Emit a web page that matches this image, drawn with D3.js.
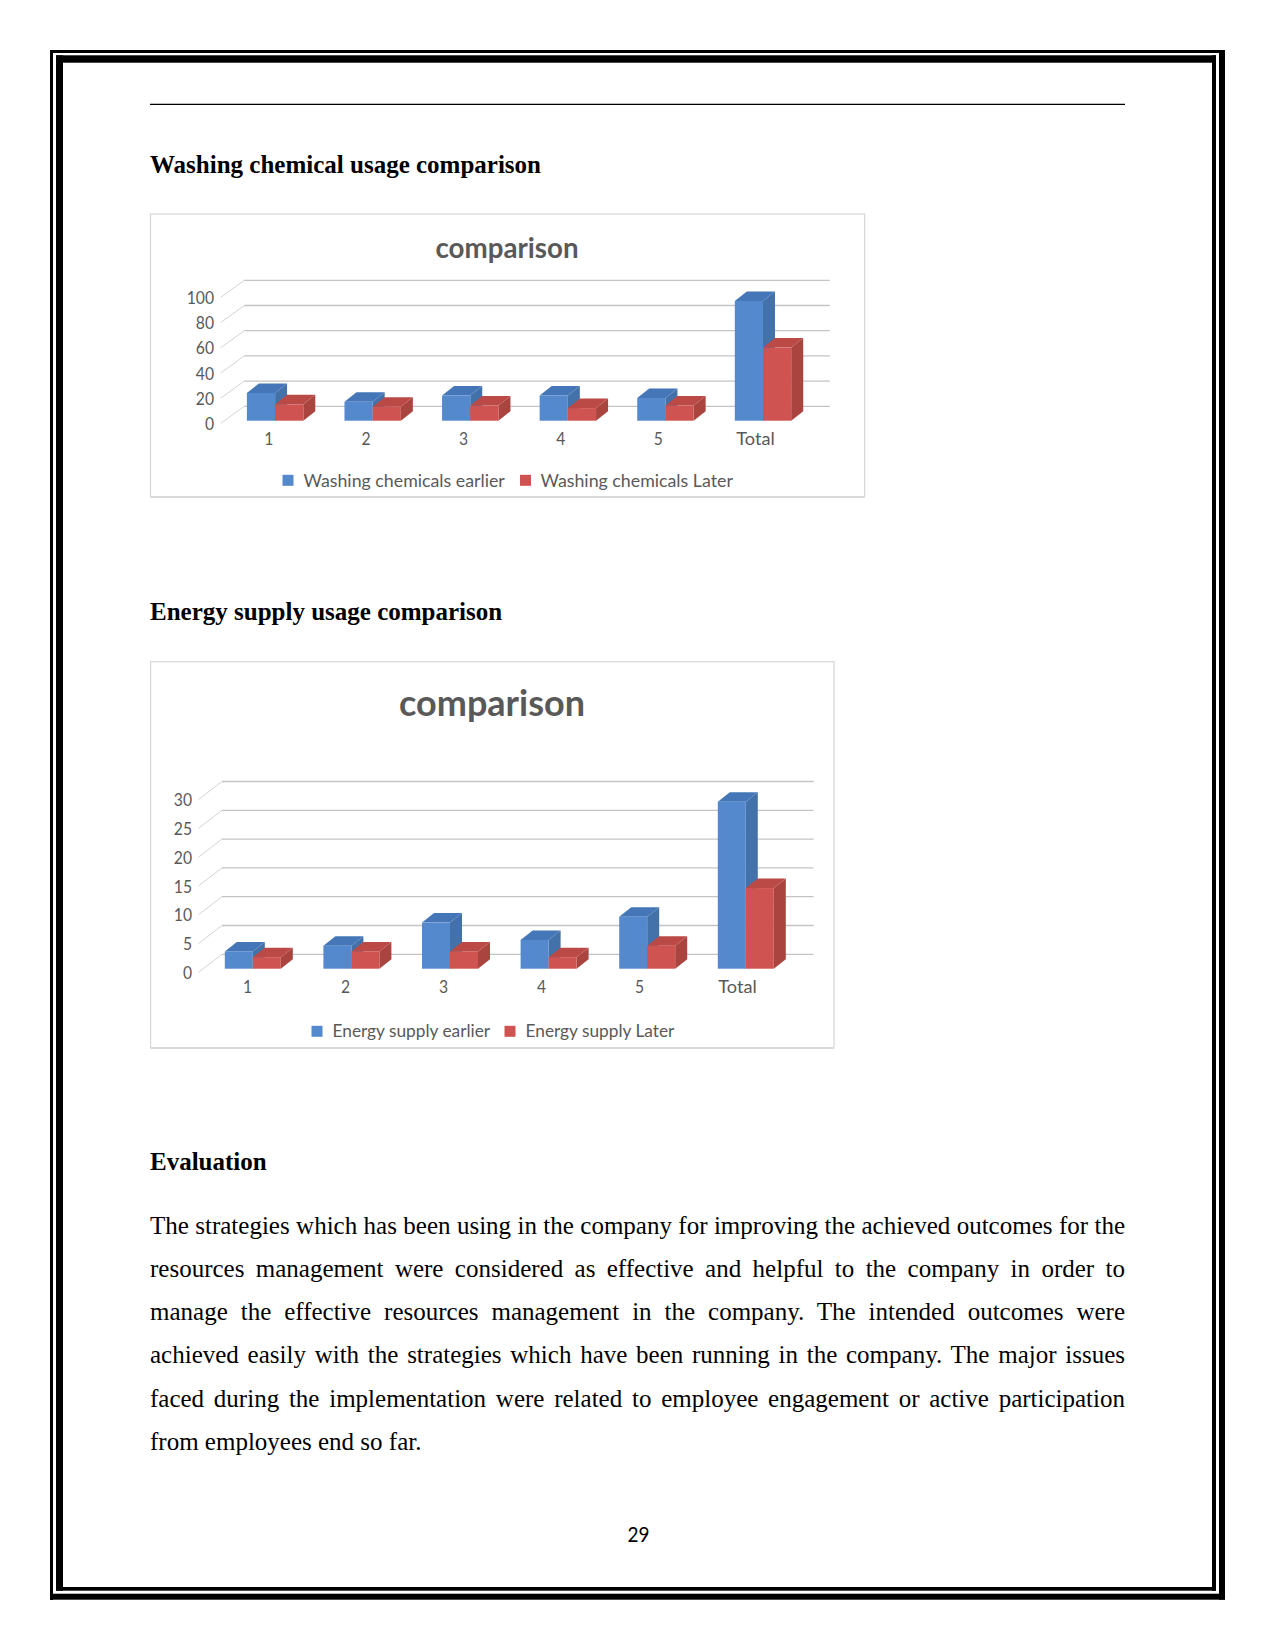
<!DOCTYPE html>
<html>
<head>
<meta charset="utf-8">
<title>Resource usage comparison</title>
<style>
    html, body { margin: 0; padding: 0; background: #fff; }
    #page { position: relative; width: 1275px; height: 1651px; overflow: hidden; }
    svg { position: absolute; left: 0; top: 0; }
    .line { position: absolute; left: 150px; width: 975px; font: 25px "Liberation Serif", serif; color: #000; white-space: normal; text-align: justify; text-align-last: justify; line-height: 30px; }
    .line.last { text-align-last: left; }
    .heading { position: absolute; left: 150px; font: bold 25px "Liberation Serif", serif; color: #000; line-height: 30px; white-space: nowrap; }
</style>
</head>
<body>
<div id="page"><svg width="1275" height="1651"></svg></div>
<script src="https://d3js.org/d3.v7.min.js"></script>
<script>
    const categories = ["1", "2", "3", "4", "5", "Total"]

    const washSeries = ["Washing chemicals earlier", "Washing chemicals Later"]
    const washEarlier = [22, 15, 20, 20, 18, 95]
    const washLater = [13, 11, 12, 10, 12, 58]
    const washTicks = [0, 20, 40, 60, 80, 100]

    const energySeries = ["Energy supply earlier", "Energy supply Later"]
    const energyEarlier = [3, 4, 8, 5, 9, 29]
    const energyLater = [2, 3, 3, 2, 4, 14]
    const energyTicks = [0, 5, 10, 15, 20, 25, 30]

    const bodyLines = [
        "The strategies which has been using in the company for improving the achieved outcomes for the",
        "resources management were considered as effective and helpful to the company in order to",
        "manage the effective resources management in the company. The intended outcomes were",
        "achieved easily with the strategies which have been running in the company. The major issues",
        "faced during the implementation were related to employee engagement or active participation",
        "from employees end so far."
    ]

    const blue = {front: "#5589cd", top: "#4577b8", side: "#4371a9"}
    const red = {front: "#cf5350", top: "#bb4a47", side: "#a9443f"}
    const textGrey = "#595959"
    const font = "Lato, sans-serif"

    const page = d3.select("#page")
    const svg = d3.select("svg")

    const headings = [["Washing chemical usage comparison", 172.7], ["Energy supply usage comparison", 619.5], ["Evaluation", 1169]]
    headings.forEach(([text, baseline]) => {
        page.append("div").attr("class", "heading")
            .style("top", (baseline - 22.5) + "px")
            .text(text)
    })

    bodyLines.forEach((text, i) => {
        page.append("div")
            .attr("class", i === bodyLines.length - 1 ? "line last" : "line")
            .style("top", (1233 - 22.5 + i * 43.3) + "px")
            .text(text)
    })

    // page border: thin + thick double line
    const border = [
        [50, 50, 3, 1550], [50, 50, 1175, 3],
        [56, 55.3, 7, 1535.4], [56, 55.3, 1160, 7.4],
        [1212, 55.3, 4, 1535.4], [56, 1587, 1160, 3.7],
        [1219, 50, 6, 1549.7], [50, 1593.7, 1175, 6]
    ]
    svg.append("g").selectAll("rect").data(border).join("rect")
        .attr("x", d => d[0]).attr("y", d => d[1])
        .attr("width", d => d[2]).attr("height", d => d[3])
        .attr("fill", "#000")

    svg.append("line")
        .attr("x1", 150).attr("x2", 1125)
        .attr("y1", 104.3).attr("y2", 104.3)
        .attr("stroke", "#000").attr("stroke-width", 1.2)

    svg.append("text")
        .attr("x", 638.5).attr("y", 1541.5)
        .attr("text-anchor", "middle")
        .attr("font-family", font).attr("font-size", 22)
        .attr("textLength", 22).attr("lengthAdjust", "spacingAndGlyphs")
        .attr("fill", "#000")
        .text("29")

    // Lato digits run wider than the chart's own font, so squeeze them to fit
    const fitTick = (sel, o) => sel
        .attr("font-family", font).attr("font-size", o.tickSize).attr("fill", textGrey)
        .attr("lengthAdjust", "spacingAndGlyphs")
        .attr("textLength", function () {
            const t = d3.select(this).text()
            return t === "Total" ? 38.5 : t.length * 9.1
        })

    const drawChart = (o) => {
        const g = svg.append("g")

        g.append("rect")
            .attr("x", o.frame[0]).attr("y", o.frame[1])
            .attr("width", o.frame[2] - o.frame[0]).attr("height", o.frame[3] - o.frame[1])
            .attr("fill", "#fff").attr("stroke", "#d9d9d9").attr("stroke-width", 1.3)
        g.append("line")
            .attr("x1", o.frame[0]).attr("x2", o.frame[2])
            .attr("y1", o.frame[3] + 0.5).attr("y2", o.frame[3] + 0.5)
            .attr("stroke", "#d9d9d9").attr("stroke-width", 1.5)

        g.append("text")
            .attr("x", o.titleX).attr("y", o.titleY)
            .attr("text-anchor", "middle")
            .attr("font-family", font).attr("font-weight", 700)
            .attr("font-size", o.titleSize)
            .attr("fill", textGrey)
            .text("comparison")

        const x = d3.scaleBand().domain(categories).range(o.xRange)
        const xLabels = d3.scaleBand().domain(categories).range(o.labelRange)
        const y = d3.scaleLinear().domain(o.yDomain).range(o.yRange)
        const inner = d3.scaleBand().domain([0, 1]).range([-o.barW, o.barW])

        const [dx, dy] = o.depth
        const [bx, by] = o.barDepth
        const right = o.xRange[1]

        // back wall gridlines and the short diagonals on the side wall
        g.append("g").selectAll("line.grid").data(o.ticks).join("line")
            .attr("x1", x.range()[0] + dx).attr("x2", right + dx)
            .attr("y1", d => y(d) - dy).attr("y2", d => y(d) - dy)
            .attr("stroke", "#c4c4c4").attr("stroke-width", 1.3)
        g.append("g").selectAll("line").data(o.ticks).join("line")
            .attr("x1", x.range()[0]).attr("x2", x.range()[0] + dx)
            .attr("y1", d => y(d)).attr("y2", d => y(d) - dy)
            .attr("stroke", "#d4d4d4").attr("stroke-width", 1)

        g.append("g")
            .attr("transform", `translate(${o.yLabelX},0.5)`)
            .call(d3.axisLeft(y).tickValues(o.ticks).tickSize(0).tickPadding(0))
            .call(a => a.select(".domain").remove())
            .call(a => a.selectAll("text").call(fitTick, o))

        g.append("g")
            .attr("transform", `translate(0,${o.xLabelY})`)
            .call(d3.axisBottom(xLabels).tickSize(0).tickPadding(0))
            .call(a => a.select(".domain").remove())
            .call(a => a.selectAll("text").call(fitTick, o))

        const rows = categories.flatMap((c, i) => [
            {c, s: 0, v: o.values[0][i], col: blue},
            {c, s: 1, v: o.values[1][i], col: red}
        ])
        const bars = g.append("g").selectAll("g").data(rows).join("g")
            .attr("transform", d => `translate(${x(d.c) + x.bandwidth() / 2 + o.barShift + inner(d.s)},${o.base})`)
        const w = inner.bandwidth()
        const h = d => y(0) - y(d.v)
        bars.append("polygon")
            .attr("fill", d => d.col.side)
            .attr("points", d => [[w, 0], [w + bx, -by], [w + bx, -h(d) - by], [w, -h(d)]].join(" "))
        bars.append("polygon")
            .attr("fill", d => d.col.top)
            .attr("points", d => [[0, -h(d)], [bx, -h(d) - by], [w + bx, -h(d) - by], [w, -h(d)]].join(" "))
        bars.append("rect")
            .attr("y", d => -h(d))
            .attr("width", w).attr("height", h)
            .attr("fill", d => d.col.front)

        // legend
        const items = o.series.map((name, i) => ({name, col: [blue, red][i], at: o.legend[i]}))
        const leg = g.append("g").selectAll("g").data(items).join("g")
        leg.append("rect")
            .attr("x", d => d.at[0]).attr("y", o.legendY - 5.5)
            .attr("width", 11).attr("height", 11)
            .attr("fill", d => d.col.front)
        leg.append("text")
            .attr("x", d => d.at[1]).attr("y", o.legendY)
            .attr("dy", "0.35em")
            .attr("font-family", font).attr("font-size", o.legendSize)
            .attr("fill", textGrey)
            .text(d => d.name)
    }

    drawChart({
        frame: [150.5, 214, 864.6, 496.7],
        titleX: 507, titleY: 258, titleSize: 27.7,
        xRange: [220.8, 806.3], labelRange: [220, 804.3], yDomain: [0, 100], yRange: [423.3, 297.3],
        ticks: washTicks, depth: [23.5, 17], barDepth: [12, 9.5], yLabelX: 214, xLabelY: 432.7,
        base: 420.7, barW: 28.2, barShift: 5.5, tickSize: 18,
        values: [washEarlier, washLater], series: washSeries,
        legend: [[282.5, 303.5], [520, 540.5]], legendY: 480.3, legendSize: 17.8
    })

    drawChart({
        frame: [150.6, 661.7, 834, 1047.7],
        titleX: 492, titleY: 716, titleSize: 36,
        xRange: [198.5, 790.1], labelRange: [198.6, 786.6], yDomain: [0, 30], yRange: [972.3, 799.5],
        ticks: energyTicks, depth: [23.5, 18], barDepth: [12, 9.5], yLabelX: 192, xLabelY: 980.5,
        base: 968.7, barW: 28, barShift: 5, tickSize: 18,
        values: [energyEarlier, energyLater], series: energySeries,
        legend: [[311.5, 332.5], [504.5, 525.5]], legendY: 1031.3, legendSize: 17.3
    })
</script>
</body>
</html>
